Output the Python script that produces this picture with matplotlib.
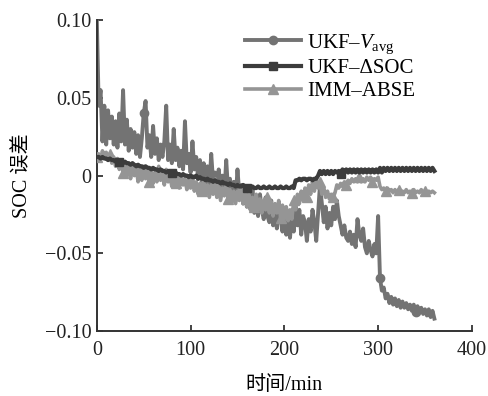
import numpy as np
import matplotlib.pyplot as plt

plt.rcParams['font.family'] = ['Liberation Serif', 'Noto Sans CJK SC']
plt.rcParams['mathtext.fontset'] = 'custom'
plt.rcParams['mathtext.rm'] = 'Liberation Serif'
plt.rcParams['mathtext.it'] = 'Liberation Serif:italic'
plt.rcParams['axes.unicode_minus'] = True

# time grid, 2 min per sample
t = np.arange(0, 361, 2)

# SOC error x 1000
v_avg = [100, 45, 55, 22, 45, 20, 42, 24, 38, 20, 35, 18, 40, 22, 55, 20,
         36, 16, 30, 18, 28, 14, 26, 12, 24, 40, 48, 18, 26, 12, 32, 14,
         24, 10, 20, 12, 22, 45, 10, 20, 8, 30, 10, 18, 6, 16, 4, 35,
         8, 14, 2, 22, 4, 12, -2, 10, -4, 8, -6, 6, -8, 14, -4, 2,
         -10, 4, -8, 0, -12, 10, -10, -2, -14, -4, -16, 4, -12, -6, -18, -8,
         -20, -10, -22, -8, -24, -14, -26, -12, -22, -28, -14, -26, -30, -16, -32, -20,
         -34, -18, -28, -36, -22, -38, -24, -40, -26, -36, -20, -32, -22, -38, -26, -30,
         -42, -28, -36, -22, -30, -42, -24, -6, -18, -30, -20, -34, -24, -32, -20, -28,
         -16, -26, -32, -38, -32, -40, -42, -36, -44, -38, -46, -28, -38, -42, -34, -46,
         -50, -42, -48, -52, -44, -50, -26, -66, -74, -72, -79, -76, -82, -78, -83, -79,
         -84, -80, -85, -81, -85, -82, -86, -83, -87, -83, -88, -84, -88, -85, -89, -86,
         -90, -86, -91, -87, -92]

d_soc = [12, 12, 11, 12, 11, 11, 10, 11, 10, 10, 9, 10, 9, 9, 8, 9,
         8, 8, 7, 8, 7, 6, 7, 6, 6, 5, 6, 5, 5, 4, 5,
         4, 4, 3, 4, 3, 3, 2, 3, 2, 2, 1, 2, 1, 1, 0, 1, 0, 0, -1, 0,
         -1, -1, 0, -2, -1, -2, -2, -3, -2, -3, -3, -4, -3, -4, -4, -5, -4, -5, -5, -6,
         -5, -6, -6, -7, -6,
         -7, -7, -6, -7, -8, -7, -8, -7, -8, -8, -7, -8, -8, -7, -8, -8, -7, -8, -8, -7,
         -8, -8, -7, -8, -8, -7, -8, -8, -7, -8,
         -3, -3, -2, -3, -2, -2, -3, -2, -2, -3, -2, -2,
         0, 3, 1, 3, 1, 3, 1, 3, 1, 3, 2, 3, 1, 4, 2, 4, 2, 4, 2, 4,
         2, 4, 2, 4, 2, 4, 2, 4, 2, 4, 2, 4, 2, 5, 2, 5, 3, 5, 3, 5,
         3, 5, 3, 5, 3, 5, 3, 5, 3, 5, 3, 5, 3, 5, 3, 5, 3, 5, 3, 5,
         3, 5, 3]

imm = [12, 14, 10, 16, 12, 15, 10, 14, 8, 12, 6, 11, 4, 10, 2, 8,
       0, 6, -2, 8, 0, 5, -4, 4, -3, 6, -2, 3, -4, 4, -5, 2,
       -4, 6, -3, 2, -6, 4, -4, 0, -7, 2, -5, -1, -8, 0, -6, -2,
       -9, -3, -8, 0, -10, -4, -12, -5, -10, -3, -12, -6, -14, -6, -12, -4,
       -14, -8, -16, -8, -13, -5, -15, -9, -17, -10, -18, -10, -16, -8, -18, -12,
       -20, -12, -22, -14, -20, -12, -22, -15, -24, -16, -22, -14, -24, -17, -26, -18,
       -24, -16, -27, -19, -28, -20, -29, -22, -28, -16, -22, -12, -18, -10, -16, -8,
       -14, -6, -12, -4, -10, -2, -8, -4, -12, -8, -14, -10, -15, -12, -14, -11,
       -6, -8, -5, -7, -4, -6, -3, -5, -2, -4, -2, -4, -1, -4, -2, -4,
       -1, -3, -1, -4, -2, -3, -1, -7, -9, -8, -10, -8, -10, -9, -11, -9,
       -11, -9, -11, -10, -11, -9, -11, -10, -11, -9, -11, -10, -11, -9, -11, -10,
       -11, -10, -11, -10, -11]

labels = ['UKF–$V_{\\rm avg}$', 'UKF–ΔSOC', 'IMM–ABSE']

fig = plt.figure(figsize=(4.89, 3.96), dpi=100)
ax = fig.add_axes([0.198, 0.164, 0.767, 0.785])

s_v = np.array(v_avg) / 1000
s_d = np.array(d_soc) / 1000
s_i = np.array(imm) / 1000

ax.plot(t, s_v, color='#737373', lw=2.8, marker='o', ms=6, markevery=[25, 151, 170],
        label=labels[0], zorder=2)
ax.plot(t, s_i, color='#959595', lw=2.6, marker='^', ms=7, markevery=7,
        label=labels[2], zorder=3)
ax.plot(t, s_d, color='#3c3c3c', lw=3.0, marker='s', ms=6, markevery=[12, 40, 80, 130],
        label=labels[1], zorder=4)

ax.set_xlim(0, 400)
ax.set_ylim(-0.10, 0.10)
ax.set_xticks([0, 100, 200, 300, 400])
ax.set_yticks([-0.10, -0.05, 0, 0.05, 0.10])
ax.set_yticklabels(['−0.10', '−0.05', '0', '0.05', '0.10'])
ax.tick_params(direction='in', length=4, width=1.2, labelsize=14.5, colors='#222222')
ax.tick_params(axis='x', pad=7)
ax.tick_params(axis='y', pad=4)
for s in ['top', 'right']:
    ax.spines[s].set_visible(False)
for s in ['left', 'bottom']:
    ax.spines[s].set_linewidth(1.4)
    ax.spines[s].set_color('#333333')

ax.set_xlabel('时间/min', fontsize=14.5, labelpad=12)
ax.set_ylabel('SOC 误差', fontsize=14.5, labelpad=9)

h, l = ax.get_legend_handles_labels()
order = [0, 2, 1]
ax.legend([h[i] for i in order], [l[i] for i in order], loc='upper left',
          bbox_to_anchor=(0.395, 0.962), frameon=False, fontsize=15,
          handlelength=2.7, handletextpad=0.3, labelspacing=0.15,
          borderpad=0, borderaxespad=0)

fig.savefig('out.png', dpi=100)
